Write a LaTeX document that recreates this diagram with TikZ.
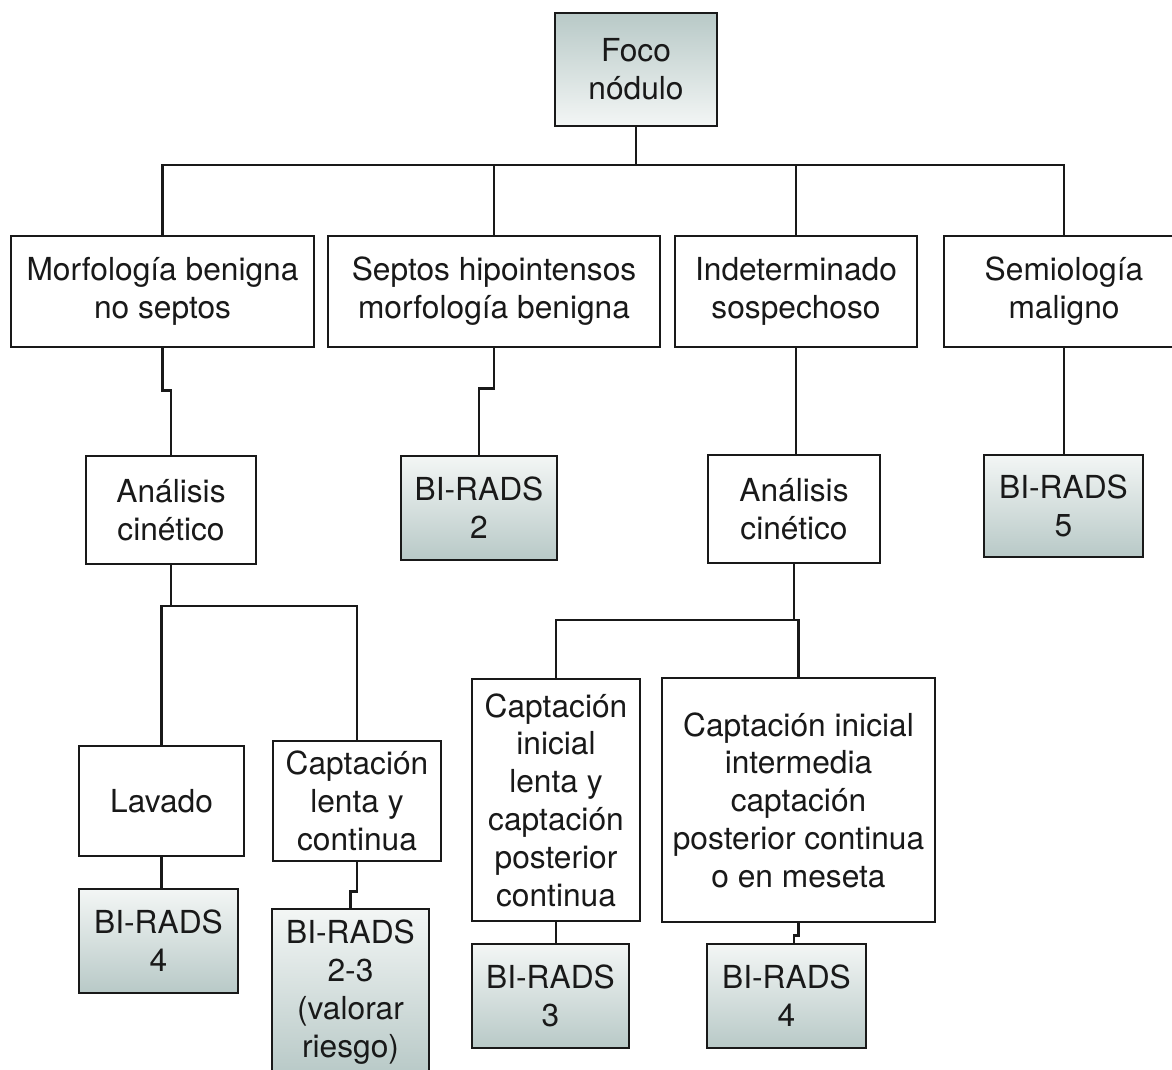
\documentclass[tikz,border=0pt]{standalone}
\usepackage{fontspec}
\setmainfont{TeX Gyre Heros}
\begin{document}
\definecolor{boxdark}{RGB}{184,201,199}
\definecolor{boxlight}{RGB}{243,246,245}
\definecolor{ink}{RGB}{25,25,25}
\tikzset{
  box/.style={draw=ink, line width=2.6pt, fill=white, inner sep=0pt, align=center,
    font=\fontsize{31.7}{37.8}\selectfont, text=ink},
  rootbox/.style={box, top color=boxdark, bottom color=boxlight},
  resbox/.style={box, top color=boxlight, bottom color=boxdark},
  link/.style={draw=ink, line width=2.6pt},
}
\begin{tikzpicture}[x=1pt, y=-1pt]
\useasboundingbox (0,0) rectangle (1172,1069);
\clip (0,0) rectangle (1172,1069);

% root
\node[rootbox, minimum width=162pt, minimum height=113pt] (foco) at (636,69.5) {Foco\\nódulo};

% first level
\node[box, minimum width=303pt, minimum height=111pt] (morf) at (162.5,291.5) {Morfología benigna\\no septos};
\node[box, minimum width=332pt, minimum height=111pt] (septos) at (494,291.5) {Septos hipointensos\\morfología benigna};
\node[box, minimum width=242pt, minimum height=111pt] (indet) at (796,291.5) {Indeterminado\\sospechoso};
\node[box, minimum width=240pt, minimum height=111pt] (semi) at (1064,291.5) {Semiología\\maligno};

% second level
\node[box, minimum width=170pt, minimum height=108pt] (anl1) at (171,510) {Análisis\\cinético};
\node[resbox, minimum width=156pt, minimum height=104pt] (bir2) at (479,508) {BI-RADS\\2};
\node[box, minimum width=172pt, minimum height=108pt] (anl2) at (794,509) {Análisis\\cinético};
\node[resbox, minimum width=159pt, minimum height=102pt] (bir5) at (1063.5,506) {BI-RADS\\5};

% kinetic outcomes
\node[box, minimum width=165pt, minimum height=110pt] (lav) at (161.5,801) {Lavado};
\node[box, minimum width=168pt, minimum height=120pt] (capt1) at (357,801) {Captación\\lenta y\\continua};
\node[box, minimum width=168pt, minimum height=242pt] (capi) at (556,800) {Captación\\inicial\\lenta y\\captación\\posterior\\continua};
\node[box, minimum width=273pt, minimum height=244pt] (capm) at (798.5,800) {Captación inicial\\intermedia\\captación\\posterior continua\\o en meseta};

% final categories
\node[resbox, minimum width=159pt, minimum height=104pt] (bir4a) at (158.5,941) {BI-RADS\\4};
\node[resbox, minimum width=157pt, minimum height=166pt] (bir23) at (350.5,992) {BI-RADS\\2-3\\(valorar\\riesgo)};
\node[resbox, minimum width=157pt, minimum height=104pt] (bir3) at (550.5,996) {BI-RADS\\3};
\node[resbox, minimum width=159pt, minimum height=104pt] (bir4b) at (786.5,996) {BI-RADS\\4};

% root bus
\coordinate (busA) at (636,165);
\draw[link] (foco.south) -- (foco.south |- busA);
\draw[link] (morf.north) |- (semi.north |- busA) -- (semi.north);
\draw[link] (septos.north) -- (septos.north |- busA);
\draw[link] (indet.north) -- (indet.north |- busA);

% first level to second level
\draw[link] (morf.south) -- ++(0,42) -| (anl1.north);
\draw[link] (septos.south) -- ++(0,40) -| (bir2.north);
\draw[link] (indet.south) -- (indet.south |- anl2.north);
\draw[link] (semi.south) -- (semi.south |- bir5.north);

% left kinetic bus
\coordinate (busB) at (171,606);
\draw[link] (anl1.south) -- (anl1.south |- busB);
\draw[link] (lav.north) |- (capt1.north |- busB) -- (capt1.north);

% right kinetic bus
\coordinate (busC) at (794,620);
\draw[link] (anl2.south) -- (anl2.south |- busC);
\draw[link] (capi.north) |- (capm.north |- busC) -- (capm.north);

% outcomes to categories
\draw[link] (lav.south) -- (lav.south |- bir4a.north);
\draw[link] (capt1.south) -- ++(0,29) -| (bir23.north);
\draw[link] (capi.south) -- (capi.south |- bir3.north);
\draw[link] (capm.south) -- ++(0,12) -| ([xshift=7.5pt]bir4b.north);
\end{tikzpicture}
\end{document}
